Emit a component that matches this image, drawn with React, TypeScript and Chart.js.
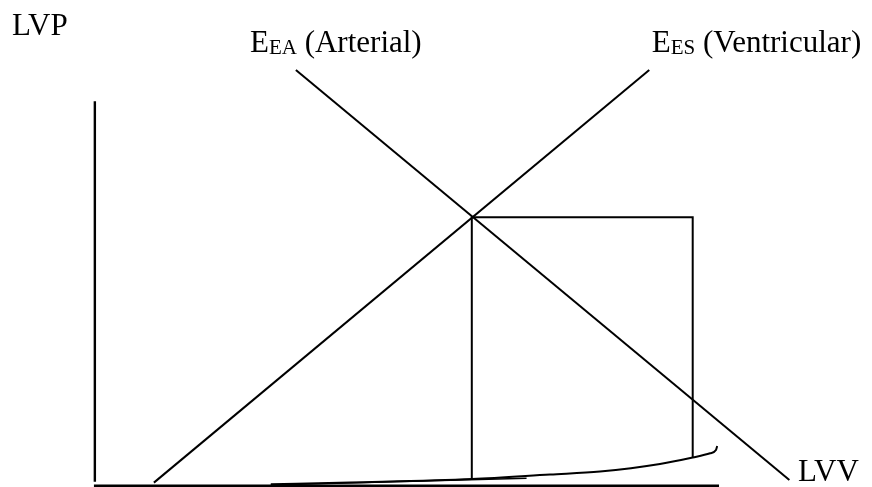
import React, { useEffect, useRef } from "react";
import { Chart, registerables } from "chart.js";

Chart.register(...registerables);

// Data space: volume (LVV) on x, pressure (LVP) on y
const volumeRange = [-31, 254];
const pressureRange = [-0.5, 189.5];

// Axes drawn as lines
const pressureAxisVolume = [0, 0];
const pressureAxisPressure = [1.5, 150];
const volumeAxisVolume = [-0.3, 204];
const volumeAxisPressure = [0, 0];

// Elastance lines
const arterialVolume = [65.7, 227];
const arterialPressure = [162.2, 2.2];
const ventricularVolume = [19.3, 181.2];
const ventricularPressure = [1.2, 162.2];

// Ejection / isovolumic box
const boxVolume = [123.2, 123.2, 195.4, 195.4];
const boxPressure = [2.6, 104.7, 104.7, 11.0];

// Filling curve (EDPVR)
const fillingVolume = [57.5, 83.4, 123.3, 148.8, 165.1, 184.7, 195.4, 201.1, 203.0, 203.4];
const fillingPressure = [0.55, 1.26, 2.6, 4.38, 5.55, 8.47, 11.0, 12.65, 13.9, 15.5];
const fillingTraceVolume = [57.5, 141.1];
const fillingTracePressure = [0.3, 2.9];

// Text labels
const labelMain = ["LVP", "E", "E", "LVV"];
const labelSub = ["", "EA", "ES", ""];
const labelRest = ["", " (Arterial)", " (Ventricular)", ""];
const labelVolume = [-27.1, 50.7, 182.0, 229.8];
const labelPressure = [175.85, 169.2, 169.2, 1.96];

const toPoints = (xs: number[], ys: number[]) => xs.map((x, i) => ({ x, y: ys[i] }));

const FONT = '"Liberation Serif", "Times New Roman", serif';

const labelPlugin = {
  id: "pvLabels",
  afterDatasetsDraw(chart: any) {
    const { ctx, scales } = chart;
    ctx.save();
    ctx.fillStyle = "#000";
    ctx.textBaseline = "alphabetic";
    ctx.textAlign = "left";
    labelMain.forEach((main, i) => {
      let x = scales.x.getPixelForValue(labelVolume[i]);
      const y = scales.y.getPixelForValue(labelPressure[i]);
      ctx.font = `31px ${FONT}`;
      ctx.fillText(main, x, y);
      x += ctx.measureText(main).width;
      if (labelSub[i]) {
        ctx.font = `21px ${FONT}`;
        ctx.fillText(labelSub[i], x, y + 2);
        x += ctx.measureText(labelSub[i]).width;
      }
      if (labelRest[i]) {
        ctx.font = `31px ${FONT}`;
        ctx.fillText(labelRest[i], x, y);
      }
    });
    ctx.restore();
  },
};

export default function App() {
  const canvasRef = useRef<HTMLCanvasElement | null>(null);

  useEffect(() => {
    const canvas = canvasRef.current;
    if (!canvas) return;
    const line = (data: { x: number; y: number }[], width = 2, extra: any = {}) => ({
      data,
      showLine: true,
      borderColor: "#000",
      borderWidth: width,
      pointRadius: 0,
      pointHoverRadius: 0,
      fill: false,
      tension: 0,
      borderCapStyle: "butt",
      borderJoinStyle: "miter",
      ...extra,
    });
    const chart = new Chart(canvas, {
      type: "scatter",
      data: {
        datasets: [
          line(toPoints(pressureAxisVolume, pressureAxisPressure), 2.4),
          line(toPoints(volumeAxisVolume, volumeAxisPressure), 2.4),
          line(toPoints(arterialVolume, arterialPressure), 2),
          line(toPoints(ventricularVolume, ventricularPressure), 2),
          line(toPoints(boxVolume, boxPressure), 2),
          line(toPoints(fillingVolume, fillingPressure), 2, { cubicInterpolationMode: "monotone" }),
          line(toPoints(fillingTraceVolume, fillingTracePressure), 1.6),
        ] as any,
      },
      options: {
        responsive: false,
        animation: false,
        devicePixelRatio: 1,
        events: [],
        layout: { padding: 0 },
        plugins: {
          legend: { display: false },
          tooltip: { enabled: false },
          title: { display: false },
        },
        scales: {
          x: { type: "linear", min: volumeRange[0], max: volumeRange[1], display: false },
          y: { type: "linear", min: pressureRange[0], max: pressureRange[1], display: false },
        },
      } as any,
      plugins: [labelPlugin],
    });
    return () => chart.destroy();
  }, []);

  return (
    <div style={{ position: "fixed", left: 0, top: 0, width: 872, height: 487, background: "#fff" }}>
      <canvas ref={canvasRef} width={872} height={487} style={{ display: "block" }} />
    </div>
  );
}
